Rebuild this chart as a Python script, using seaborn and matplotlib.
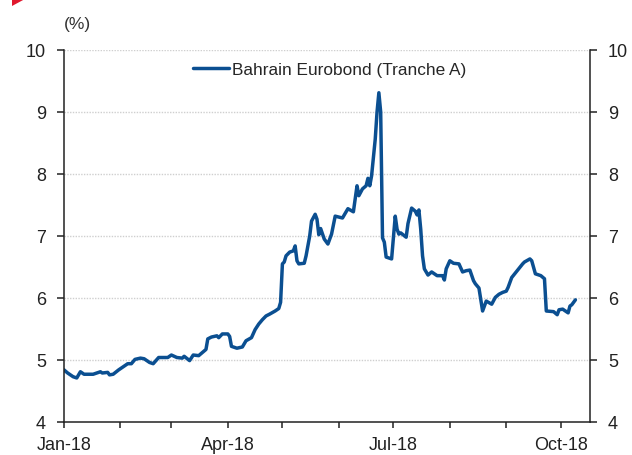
import matplotlib
matplotlib.use("Agg")
import matplotlib.pyplot as plt
import matplotlib.dates as mdates
from matplotlib.patches import Polygon
import pandas as pd
import seaborn as sns

# Bahrain Eurobond (Tranche A) yield, %
dates = [
    "2018-01-01", "2018-01-03", "2018-01-06", "2018-01-08", "2018-01-10", "2018-01-12",
    "2018-01-17", "2018-01-21", "2018-01-22", "2018-01-25", "2018-01-26", "2018-01-28",
    "2018-01-31", "2018-02-02", "2018-02-05", "2018-02-07", "2018-02-09", "2018-02-12",
    "2018-02-14", "2018-02-17", "2018-02-19", "2018-02-22", "2018-02-27", "2018-03-01",
    "2018-03-04", "2018-03-07", "2018-03-08", "2018-03-11", "2018-03-13", "2018-03-16",
    "2018-03-18", "2018-03-20", "2018-03-21", "2018-03-23", "2018-03-26", "2018-03-27",
    "2018-03-29", "2018-04-01", "2018-04-02", "2018-04-03", "2018-04-06", "2018-04-09",
    "2018-04-11", "2018-04-14", "2018-04-16", "2018-04-18", "2018-04-20", "2018-04-22",
    "2018-04-24", "2018-04-27", "2018-04-29", "2018-04-30", "2018-05-01", "2018-05-02",
    "2018-05-03", "2018-05-05", "2018-05-07", "2018-05-08", "2018-05-09", "2018-05-10",
    "2018-05-13", "2018-05-14", "2018-05-16", "2018-05-17", "2018-05-19", "2018-05-20",
    "2018-05-21", "2018-05-22", "2018-05-24", "2018-05-26", "2018-05-28", "2018-05-30",
    "2018-06-03", "2018-06-06", "2018-06-09", "2018-06-11", "2018-06-12", "2018-06-14",
    "2018-06-16", "2018-06-17", "2018-06-18", "2018-06-19", "2018-06-21", "2018-06-22",
    "2018-06-23", "2018-06-24", "2018-06-25", "2018-06-26", "2018-06-27", "2018-06-30",
    "2018-07-02", "2018-07-03", "2018-07-04", "2018-07-05", "2018-07-08", "2018-07-09",
    "2018-07-11", "2018-07-13", "2018-07-14", "2018-07-15", "2018-07-16", "2018-07-17",
    "2018-07-18", "2018-07-20", "2018-07-22", "2018-07-25", "2018-07-28", "2018-07-29",
    "2018-07-30", "2018-08-01", "2018-08-03", "2018-08-06", "2018-08-08", "2018-08-10",
    "2018-08-12", "2018-08-14", "2018-08-15", "2018-08-17", "2018-08-18", "2018-08-19",
    "2018-08-21", "2018-08-24", "2018-08-26", "2018-08-28", "2018-08-30", "2018-09-01",
    "2018-09-02", "2018-09-04", "2018-09-07", "2018-09-10", "2018-09-11", "2018-09-14",
    "2018-09-15", "2018-09-17", "2018-09-20", "2018-09-22", "2018-09-23", "2018-09-27",
    "2018-09-29", "2018-09-30", "2018-10-02", "2018-10-03", "2018-10-05", "2018-10-06",
    "2018-10-07", "2018-10-09",
]
yields = [
    4.84, 4.79, 4.73, 4.71, 4.81, 4.77,
    4.77, 4.81, 4.79, 4.80, 4.76, 4.77,
    4.84, 4.88, 4.94, 4.94, 5.01, 5.03,
    5.02, 4.96, 4.94, 5.04, 5.04, 5.08,
    5.04, 5.03, 5.06, 4.99, 5.08, 5.07,
    5.12, 5.17, 5.34, 5.37, 5.39, 5.36,
    5.42, 5.42, 5.38, 5.22, 5.19, 5.21,
    5.31, 5.36, 5.49, 5.58, 5.65, 5.71,
    5.74, 5.79, 5.83, 5.93, 6.55, 6.58,
    6.68, 6.74, 6.76, 6.84, 6.60, 6.55,
    6.56, 6.68, 7.00, 7.24, 7.35, 7.27,
    7.02, 7.12, 6.95, 6.87, 7.03, 7.32,
    7.29, 7.44, 7.39, 7.81, 7.65, 7.76,
    7.81, 7.93, 7.81, 7.97, 8.56, 9.00,
    9.31, 9.00, 6.97, 6.90, 6.66, 6.63,
    7.32, 7.11, 7.03, 7.05, 6.98, 7.20,
    7.45, 7.40, 7.34, 7.42, 7.11, 6.68,
    6.47, 6.37, 6.42, 6.36, 6.36, 6.29,
    6.47, 6.60, 6.56, 6.55, 6.42, 6.44,
    6.45, 6.28, 6.23, 6.16, 5.98, 5.79,
    5.95, 5.90, 6.01, 6.06, 6.09, 6.11,
    6.17, 6.33, 6.44, 6.55, 6.58, 6.63,
    6.60, 6.39, 6.36, 6.31, 5.79, 5.78,
    5.73, 5.81, 5.82, 5.80, 5.76, 5.87,
    5.89, 5.97,
]
series_label = "Bahrain Eurobond (Tranche A)"
y_ticks = [4, 5, 6, 7, 8, 9, 10]
unit_label = "(%)"

df = pd.DataFrame({"date": pd.to_datetime(dates), "yield": yields})

sns.set_style("ticks")
plt.rcParams["font.family"] = ["Liberation Sans", "DejaVu Sans"]

fig = plt.figure(figsize=(6.32, 4.56), dpi=100)
ax = fig.add_axes([0.1013, 0.0724, 0.8322, 0.8158])

line_color = "#0b4f91"
sns.lineplot(data=df, x="date", y="yield", ax=ax, color=line_color,
             linewidth=2.5, label=series_label)

ax.set_xlim(pd.Timestamp("2018-01-01"), pd.Timestamp("2018-10-17"))
ax.set_ylim(4, 10)
ax.set_yticks(y_ticks)
ax.set_xlabel("")
ax.set_ylabel("")

ax.xaxis.set_major_locator(mdates.MonthLocator(bymonth=[1, 4, 7, 10]))
ax.xaxis.set_major_formatter(mdates.DateFormatter("%b-%y"))
ax.xaxis.set_minor_locator(mdates.MonthLocator())

for y in y_ticks[1:]:
    ax.axhline(y, color="#cfcfcf", linestyle=(0, (1, 1)), linewidth=1.0, zorder=0)

for side in ("left", "right", "bottom"):
    ax.spines[side].set_visible(True)
    ax.spines[side].set_color("#222222")
    ax.spines[side].set_linewidth(1.1)
ax.spines["top"].set_visible(False)

ax.tick_params(axis="y", which="both", left=True, right=True, labelleft=True,
               labelright=True, direction="out", length=5, width=1.1,
               labelsize=13, pad=8, colors="#222222")
ax.tick_params(axis="x", which="both", direction="out", length=4, width=1.1,
               labelsize=13, pad=6, colors="#222222")

leg = ax.legend(loc="upper center", bbox_to_anchor=(0.505, 1.0), frameon=False,
                fontsize=12.4, handlelength=2.1, handletextpad=0.15,
                borderaxespad=0.3)
for h in leg.get_lines():
    h.set_linewidth(2.5)

fig.text(64 / 632, 1 - 25 / 456, unit_label, fontsize=12.5, color="#333333",
         ha="left", va="center")

# small red corner marker
fig.patches.append(Polygon([[12 / 632, 1.0], [25 / 632, 1.0], [12 / 632, 1 - 7 / 456]],
                           closed=True, transform=fig.transFigure,
                           facecolor="#e0182d", edgecolor="none"))

fig.savefig("out.png", dpi=100)
